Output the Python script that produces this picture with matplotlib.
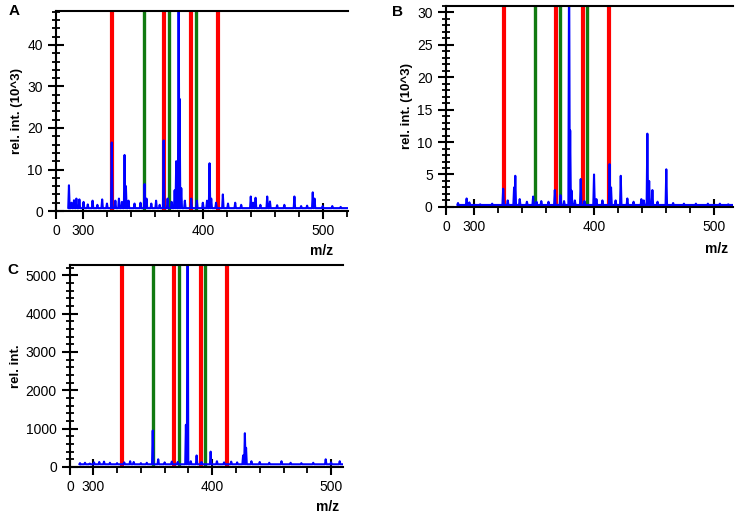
import matplotlib
matplotlib.use("Agg")
import matplotlib.pyplot as plt
from matplotlib.ticker import MultipleLocator, FixedLocator

plt.rcParams['font.family'] = ['Liberation Sans', 'DejaVu Sans']

# marker lines (m/z)
red_lines = [324.5, 368.0, 390.5, 412.5]
green_lines = [350.5, 372.0, 394.0]

# panel A spectrum: peaks (m/z, rel. int. 10^3)
a_range = (288, 521)
a_base = 0.7
a_mz = [288.3, 290.5, 292.5, 294.5, 297.0, 300.5, 304.0, 308.0, 312.0, 316.0, 320.0, 324.0,
        327.0, 330.0, 332.5, 334.7, 335.8, 338.0, 343.0, 348.0, 351.4, 353.0, 357.0, 361.0,
        364.0, 367.3, 370.6, 374.0, 376.5, 377.8, 379.8, 380.6, 382.0, 385.0, 390.3, 395.0,
        400.0, 403.5, 405.6, 407.0, 411.0, 416.7, 421.0, 427.0, 432.0, 440.0, 442.0, 444.0,
        448.0, 453.7, 456.0, 462.0, 468.0, 476.4, 482.0, 487.0, 491.7, 493.2, 500.0, 508.0,
        515.0]
a_int = [6.2, 2.0, 2.6, 3.0, 2.8, 2.2, 1.6, 2.5, 1.5, 2.8, 1.8, 16.5,
         2.5, 3.0, 2.2, 13.5, 6.0, 2.5, 1.8, 2.0, 6.5, 3.0, 1.8, 2.5,
         1.5, 17.0, 3.0, 2.2, 5.0, 12.0, 60.0, 27.0, 5.5, 2.5, 3.0, 2.5,
         2.0, 2.5, 11.5, 3.0, 2.0, 4.0, 1.8, 2.0, 1.5, 3.5, 2.0, 3.2,
         1.5, 3.5, 2.3, 1.4, 1.5, 3.5, 1.2, 1.3, 4.5, 3.0, 1.2, 1.2,
         1.0]

# panel B spectrum
b_range = (286, 515.6)
b_base = 0.3
b_mz = [286.5, 293.7, 296.0, 305.0, 315.0, 324.2, 328.0, 333.3, 334.3, 338.0, 344.0, 349.2,
        352.0, 356.0, 362.0, 367.3, 372.0, 375.0, 379.2, 380.1, 381.3, 384.0, 388.9, 392.0,
        400.0, 402.0, 407.0, 413.0, 414.2, 418.0, 422.3, 427.8, 433.0, 439.5, 441.5, 444.5,
        446.0, 448.7, 453.0, 460.3, 466.0, 475.0, 485.0, 495.0, 505.0, 512.0]
b_int = [0.6, 1.3, 0.7, 0.4, 0.5, 2.8, 1.0, 3.0, 4.8, 1.2, 0.8, 1.6,
         0.8, 0.9, 0.8, 2.6, 1.8, 0.9, 40.0, 11.8, 2.5, 1.0, 4.3, 0.9,
         5.0, 1.2, 1.0, 6.6, 3.0, 1.0, 4.8, 1.3, 0.8, 1.2, 1.0, 11.3,
         4.0, 2.6, 0.8, 5.8, 0.6, 0.5, 0.5, 0.5, 0.5, 0.4]

# panel C spectrum (rel. int.)
c_range = (288.5, 509.8)
c_base = 70
c_mz = [288.8, 293.0, 297.0, 300.6, 305.0, 309.0, 314.0, 320.0, 326.0, 331.0, 334.0, 340.0,
        345.0, 350.0, 354.6, 360.0, 366.0, 371.0, 377.9, 379.3, 382.0, 386.9, 391.0, 398.7,
        404.0, 410.0, 416.0, 421.0, 426.0, 427.5, 428.5, 433.0, 440.0, 448.0, 458.3, 466.0,
        475.0, 485.0, 495.5, 500.0, 507.3]
c_int = [100, 110, 90, 120, 130, 140, 110, 100, 120, 150, 130, 100,
         110, 950, 200, 120, 140, 130, 1100, 7000, 150, 300, 130, 400,
         150, 120, 140, 120, 300, 880, 500, 150, 130, 110, 150, 110,
         100, 110, 200, 120, 150]


def spectrum(mz, inten, base, rng, w=0.6):
    xs = [rng[0]]
    ys = [base]
    for m, h in zip(mz, inten):
        xs += [m - w, m, m + w]
        ys += [base, h, base]
    xs.append(rng[1])
    ys.append(base)
    return xs, ys


def draw_panel(ax, mz, inten, base, rng, xlim, ylim, ymajor, yminor, ylabel, letter, letter_pos):
    for x in red_lines:
        ax.axvline(x, color='#ff0000', lw=3.0, zorder=1)
    for x in green_lines:
        ax.axvline(x, color='#107a10', lw=2.4, zorder=1)
    xs, ys = spectrum(mz, inten, base, rng)
    ax.plot(xs, ys, color='#0000ff', lw=1.5, zorder=2)
    ax.set_xlim(*xlim)
    ax.set_ylim(*ylim)
    ax.xaxis.set_major_locator(FixedLocator([xlim[0], 300, 400, 500]))
    ax.set_xticklabels(['0', '300', '400', '500'])
    ax.xaxis.set_minor_locator(FixedLocator([320, 340, 360, 380, 420, 440, 460, 480, 520]))
    ax.yaxis.set_major_locator(MultipleLocator(ymajor))
    ax.yaxis.set_minor_locator(MultipleLocator(yminor))
    ax.tick_params(which='major', direction='inout', length=11, width=1.5, labelsize=10, pad=4)
    ax.tick_params(which='minor', direction='inout', length=6, width=1.3)
    ax.tick_params(axis='x', which='minor', direction='out', length=4)
    ax.spines['right'].set_visible(False)
    for s in ['left', 'bottom', 'top']:
        ax.spines[s].set_linewidth(1.5)
    ax.set_ylabel(ylabel, fontsize=9.5, fontweight='bold', labelpad=3)
    ax.set_xlabel('m/z', fontsize=10, fontweight='bold')
    ax.text(letter_pos[0], letter_pos[1], letter, transform=ax.transAxes, fontsize=11,
            fontweight='bold', va='center', ha='left')


fig = plt.figure(figsize=(7.37, 5.16), dpi=100)
ax_a = fig.add_axes([0.076, 0.591, 0.396, 0.388])
ax_b = fig.add_axes([0.605, 0.599, 0.389, 0.3895])
ax_c = fig.add_axes([0.095, 0.095, 0.370, 0.391])

draw_panel(ax_a, a_mz, a_int, a_base, a_range, (277.5, 521), (0, 48.2), 10, 2,
           'rel. int. (10^3)', 'A', (-0.164, 1.0))
draw_panel(ax_b, b_mz, b_int, b_base, b_range, (276.4, 515.6), (0, 31), 5, 1,
           'rel. int. (10^3)', 'B', (-0.188, 0.97))
draw_panel(ax_c, c_mz, c_int, c_base, c_range, (280.4, 509.8), (0, 5260), 1000, 200,
           'rel. int.', 'C', (-0.23, 0.975))

ax_a.xaxis.set_label_coords(0.91, -0.165)
ax_b.xaxis.set_label_coords(0.944, -0.175)
ax_c.xaxis.set_label_coords(0.945, -0.165)

fig.savefig('out.png', dpi=100)
